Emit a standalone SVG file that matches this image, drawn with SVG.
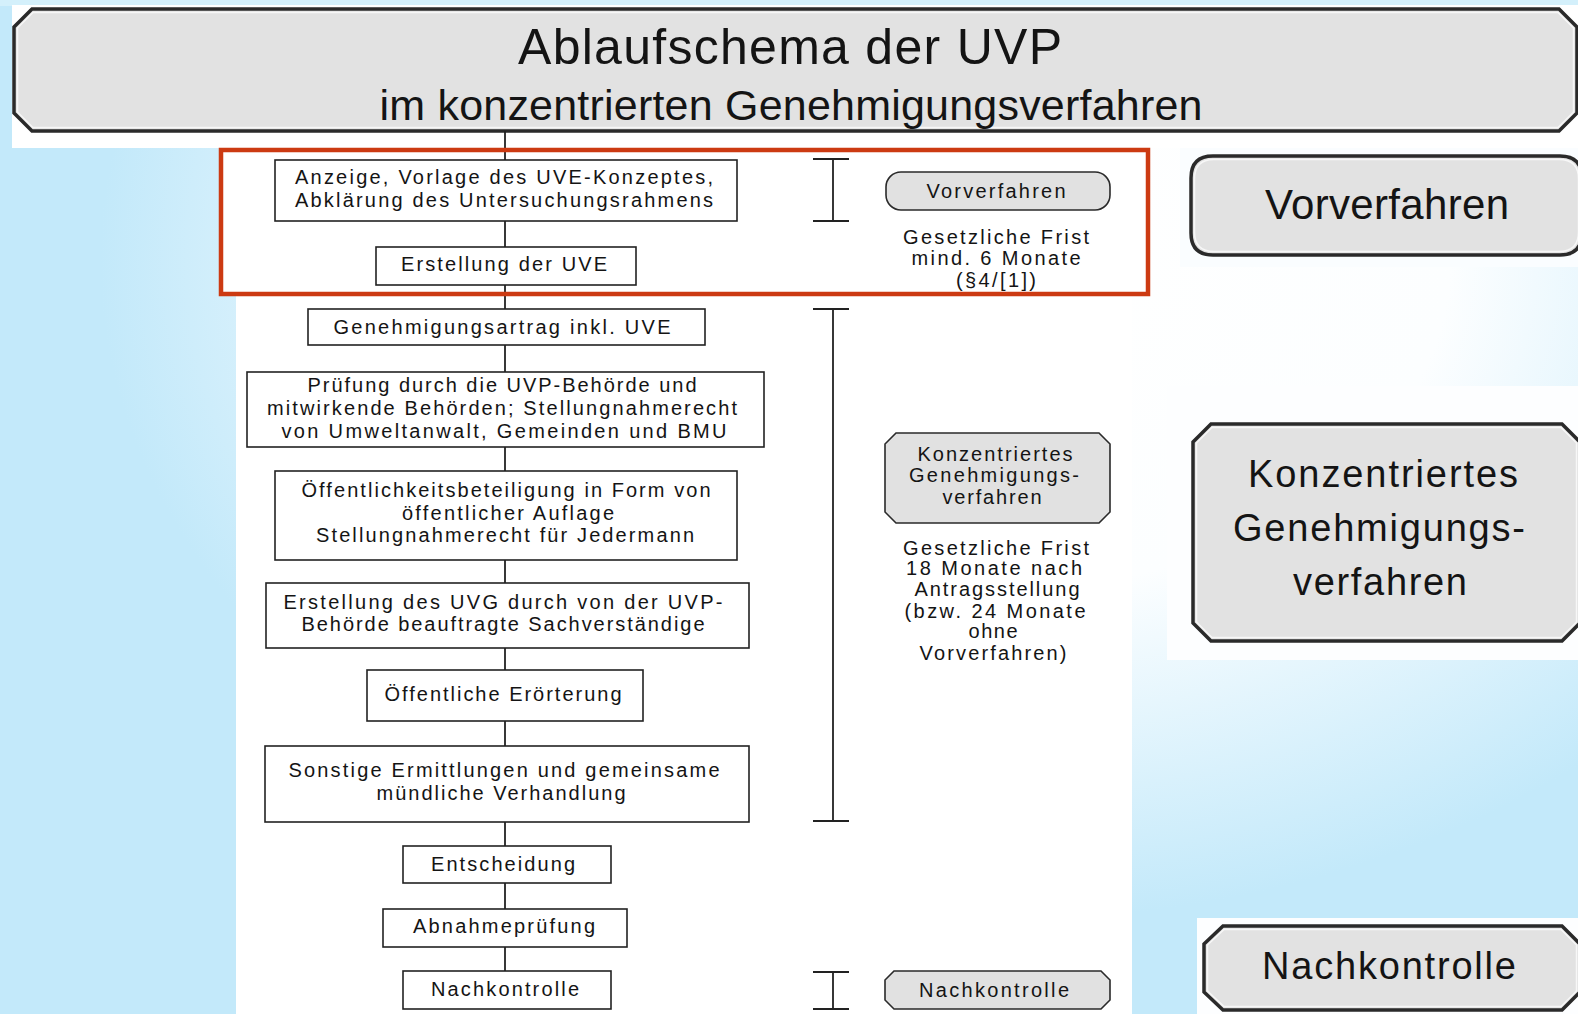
<svg xmlns="http://www.w3.org/2000/svg" width="1578" height="1014" viewBox="0 0 1578 1014">
<defs>
<radialGradient id="bg" gradientUnits="userSpaceOnUse" cx="0" cy="0" r="1" gradientTransform="translate(1000 260) scale(900 660)">
<stop offset="0" stop-color="#ffffff"/>
<stop offset="0.5" stop-color="#fcfeff"/>
<stop offset="1" stop-color="#c3e9fa"/>
</radialGradient>
<style>
.t{font-family:"Liberation Sans",Arial,sans-serif;fill:#141414;text-anchor:middle}
.s{font-size:20px}
.box{fill:#ffffff;stroke:#222;stroke-width:1.6}
.lbl{fill:#e1e1e1;stroke:#2a2a2a;stroke-width:1.6}
.big{fill:#e2e2e2;stroke:#2a2a2a;stroke-width:3.5}
.hl{fill:none;stroke:#f7f7f7;stroke-width:1.5}
.ln{stroke:#222;stroke-width:1.8;fill:none}
.back{fill:#ffffff}
</style>
</defs>
<rect width="1578" height="1014" fill="url(#bg)"/>
<rect x="0" y="0" width="1578" height="6" fill="#d4f0fb"/>
<!-- backdrops -->
<rect class="back" x="12" y="5" width="1566" height="143"/>
<rect class="back" x="236" y="148" width="896" height="866"/>
<rect class="back" x="219" y="148" width="931" height="148"/>
<rect x="1180" y="148" width="398" height="119" fill="#fafdff"/>
<rect x="1167" y="386" width="411" height="274" fill="#fdfeff"/>
<rect x="1197" y="918" width="381" height="96" fill="#fdfeff"/>

<g id="header">
<path class="big" d="M32,9 H1559 L1577,27 V113 L1559,131 H32 L14,113 V27 Z"/>
<path class="hl" d="M33,12.5 H1558 L1573.5,28 V112 L1558,127.5 H33 L17.5,112 V28 Z"/>
<text class="t" x="790" y="64" font-size="50" textLength="544">Ablaufschema der UVP</text>
<text class="t" x="791" y="120" font-size="43" textLength="823">im konzentrierten Genehmigungsverfahren</text>
</g>

<g id="connectors">
<line class="ln" x1="505" y1="131" x2="505" y2="160"/>
<line class="ln" x1="505" y1="221" x2="505" y2="247"/>
<line class="ln" x1="505" y1="285" x2="505" y2="309"/>
<line class="ln" x1="505" y1="345" x2="505" y2="372"/>
<line class="ln" x1="505" y1="447" x2="505" y2="471"/>
<line class="ln" x1="505" y1="560" x2="505" y2="583"/>
<line class="ln" x1="505" y1="648" x2="505" y2="670"/>
<line class="ln" x1="505" y1="721" x2="505" y2="746"/>
<line class="ln" x1="505" y1="822" x2="505" y2="846"/>
<line class="ln" x1="505" y1="883" x2="505" y2="909"/>
<line class="ln" x1="505" y1="947" x2="505" y2="971"/>
</g>

<g id="n1">
<rect class="box" x="275" y="160" width="462" height="61"/>
<text class="t s" x="504" y="184" textLength="418">Anzeige, Vorlage des UVE-Konzeptes,</text>
<text class="t s" x="504" y="207" textLength="418">Abklärung des Untersuchungsrahmens</text>
</g>
<g id="n2">
<rect class="box" x="376" y="247" width="260" height="38"/>
<text class="t s" x="504" y="271" textLength="206">Erstellung der UVE</text>
</g>
<g id="n3">
<rect class="box" x="308" y="309" width="397" height="36"/>
<text class="t s" x="502" y="334" textLength="337">Genehmigungsartrag inkl. UVE</text>
</g>
<g id="n4">
<rect class="box" x="247" y="372" width="517" height="75"/>
<text class="t s" x="502" y="392" textLength="389">Prüfung durch die UVP-Behörde und</text>
<text class="t s" x="502" y="415" textLength="470">mitwirkende Behörden; Stellungnahmerecht</text>
<text class="t s" x="504" y="438" textLength="445">von Umweltanwalt, Gemeinden und BMU</text>
</g>
<g id="n5">
<rect class="box" x="275" y="471" width="462" height="89"/>
<text class="t s" x="506" y="497" textLength="409">Öffentlichkeitsbeteiligung in Form von</text>
<text class="t s" x="508" y="520" textLength="212">öffentlicher Auflage</text>
<text class="t s" x="505" y="542" textLength="378">Stellungnahmerecht für Jedermann</text>
</g>
<g id="n6">
<rect class="box" x="266" y="583" width="483" height="65"/>
<text class="t s" x="503" y="609" textLength="439">Erstellung des UVG durch von der UVP-</text>
<text class="t s" x="503" y="631" textLength="403">Behörde beauftragte Sachverständige</text>
</g>
<g id="n7">
<rect class="box" x="367" y="670" width="276" height="51"/>
<text class="t s" x="503" y="701" textLength="237">Öffentliche Erörterung</text>
</g>
<g id="n8">
<rect class="box" x="265" y="746" width="484" height="76"/>
<text class="t s" x="504" y="777" textLength="431">Sonstige Ermittlungen und gemeinsame</text>
<text class="t s" x="501" y="800" textLength="249">mündliche Verhandlung</text>
</g>
<g id="n9">
<rect class="box" x="403" y="846" width="208" height="37"/>
<text class="t s" x="503" y="871" textLength="144">Entscheidung</text>
</g>
<g id="n10">
<rect class="box" x="383" y="909" width="244" height="38"/>
<text class="t s" x="504" y="933" textLength="182">Abnahmeprüfung</text>
</g>
<g id="n11">
<rect class="box" x="403" y="971" width="208" height="38"/>
<text class="t s" x="505" y="996" textLength="148">Nachkontrolle</text>
</g>

<g id="brackets">
<path class="ln" d="M833,159 V221 M813,159 H849 M813,221 H849"/>
<path class="ln" d="M833,309 V821 M813,309 H849 M813,821 H849"/>
<path class="ln" d="M833,972 V1009 M813,972 H849 M813,1009 H849"/>
</g>

<g id="l1">
<rect class="lbl" x="886" y="172" width="224" height="38" rx="15"/>
<text class="t s" x="996" y="198" textLength="139">Vorverfahren</text>
</g>
<g id="f1">
<text class="t s" x="996" y="244" textLength="186">Gesetzliche Frist</text>
<text class="t s" x="996" y="265" textLength="169">mind. 6 Monate</text>
<text class="t s" x="996" y="287" textLength="80">(§4/[1])</text>
</g>
<g id="l2">
<path class="lbl" d="M896,433 H1099 L1110,444 V512 L1099,523 H896 L885,512 V444 Z"/>
<text class="t s" x="995" y="461" textLength="155">Konzentriertes</text>
<text class="t s" x="994" y="482" textLength="170">Genehmigungs-</text>
<text class="t s" x="992" y="504" textLength="99">verfahren</text>
</g>
<g id="f2">
<text class="t s" x="996" y="555" textLength="186">Gesetzliche Frist</text>
<text class="t s" x="994" y="575" textLength="176">18 Monate nach</text>
<text class="t s" x="997" y="596" textLength="165">Antragsstellung</text>
<text class="t s" x="995" y="618" textLength="181">(bzw. 24 Monate</text>
<text class="t s" x="993" y="638" textLength="49">ohne</text>
<text class="t s" x="993" y="660" textLength="147">Vorverfahren)</text>
</g>
<g id="l3">
<path class="lbl" d="M894,971 H1101 L1110,980 V1000 L1101,1009 H894 L885,1000 V980 Z"/>
<text class="t s" x="994" y="997" textLength="150">Nachkontrolle</text>
</g>

<g id="red">
<rect x="221" y="150" width="927" height="144" fill="none" stroke="#cc3a12" stroke-width="4.5"/>
</g>

<g id="b1">
<path class="big" d="M1213,156 H1560 Q1582,156 1582,178 V233 Q1582,255 1560,255 H1213 Q1191,255 1191,233 V178 Q1191,156 1213,156 Z"/>
<path class="hl" d="M1214,159.5 H1559 Q1578.5,159.5 1578.5,179 V232 Q1578.5,251.5 1559,251.5 H1214 Q1194.5,251.5 1194.5,232 V179 Q1194.5,159.5 1214,159.5 Z"/>
<text class="t" x="1387" y="219" font-size="42" textLength="244">Vorverfahren</text>
</g>
<g id="b2">
<path class="big" d="M1211,424 H1562 L1580,442 V623 L1562,641 H1211 L1193,623 V442 Z"/>
<path class="hl" d="M1212,427.5 H1561 L1576.5,443 V622 L1561,637.5 H1212 L1196.5,622 V443 Z"/>
<text class="t" x="1383" y="487" font-size="38" textLength="270">Konzentriertes</text>
<text class="t" x="1379" y="541" font-size="38" textLength="292">Genehmigungs-</text>
<text class="t" x="1380" y="595" font-size="38" textLength="174">verfahren</text>
</g>
<g id="b3">
<path class="big" d="M1223,926 H1562 L1580,944 V992 L1562,1010 H1223 L1204,992 V944 Z"/>
<path class="hl" d="M1224,929.5 H1561 L1576.5,945 V991 L1561,1006.5 H1224 L1207.5,991 V945 Z"/>
<text class="t" x="1389" y="979" font-size="38" textLength="254">Nachkontrolle</text>
</g>
</svg>
